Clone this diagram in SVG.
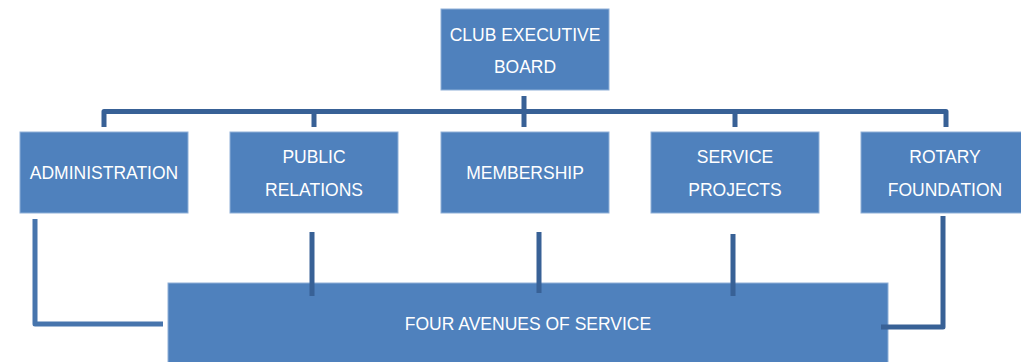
<svg xmlns="http://www.w3.org/2000/svg" width="1021" height="362" viewBox="0 0 1021 362">
<style>
.box{fill:#4F81BD;stroke:#8fb0d8;stroke-width:1}
.t{font-family:"Liberation Sans",Arial,sans-serif;font-size:17.5px;fill:#ffffff;text-anchor:middle}
.c{fill:none;stroke:#386196;stroke-width:5;stroke-linejoin:round}
.c2{fill:none;stroke:#4775ad;stroke-width:5;stroke-linejoin:round}
</style>
<rect width="1021" height="362" fill="#ffffff"/>
<g id="board"><rect class="box" x="441" y="9" width="168" height="81"/><text class="t" x="525" y="41">CLUB EXECUTIVE</text><text class="t" x="525" y="73">BOARD</text></g>
<g id="administration"><rect class="box" x="20" y="132" width="168" height="81"/><text class="t" x="104" y="179">ADMINISTRATION</text></g>
<g id="public-relations"><rect class="box" x="230" y="132" width="168" height="81"/><text class="t" x="314" y="163">PUBLIC</text><text class="t" x="314" y="196">RELATIONS</text></g>
<g id="membership"><rect class="box" x="441" y="132" width="168" height="81"/><text class="t" x="525" y="179">MEMBERSHIP</text></g>
<g id="service-projects"><rect class="box" x="651" y="132" width="168" height="81"/><text class="t" x="735" y="163">SERVICE</text><text class="t" x="735" y="196">PROJECTS</text></g>
<g id="rotary-foundation"><rect class="box" x="861" y="132" width="168" height="81"/><text class="t" x="945" y="163">ROTARY</text><text class="t" x="945" y="196">FOUNDATION</text></g>
<g id="four-avenues"><rect class="box" x="168" y="283" width="720" height="90"/><text class="t" x="528" y="330">FOUR AVENUES OF SERVICE</text></g>
<g id="connectors">
<path class="c" d="M104 127 V111.5 H946 V127"/>
<path class="c" d="M314 111.5 V127 M524 96 V127 M735 111.5 V127"/>
<path class="c2" d="M35 219 V324 H163"/>
<path class="c" d="M943 216 V327 H881"/>
<path class="c" d="M312 232 V296 M539 232 V293 M733 234 V296"/>
</g>
</svg>
